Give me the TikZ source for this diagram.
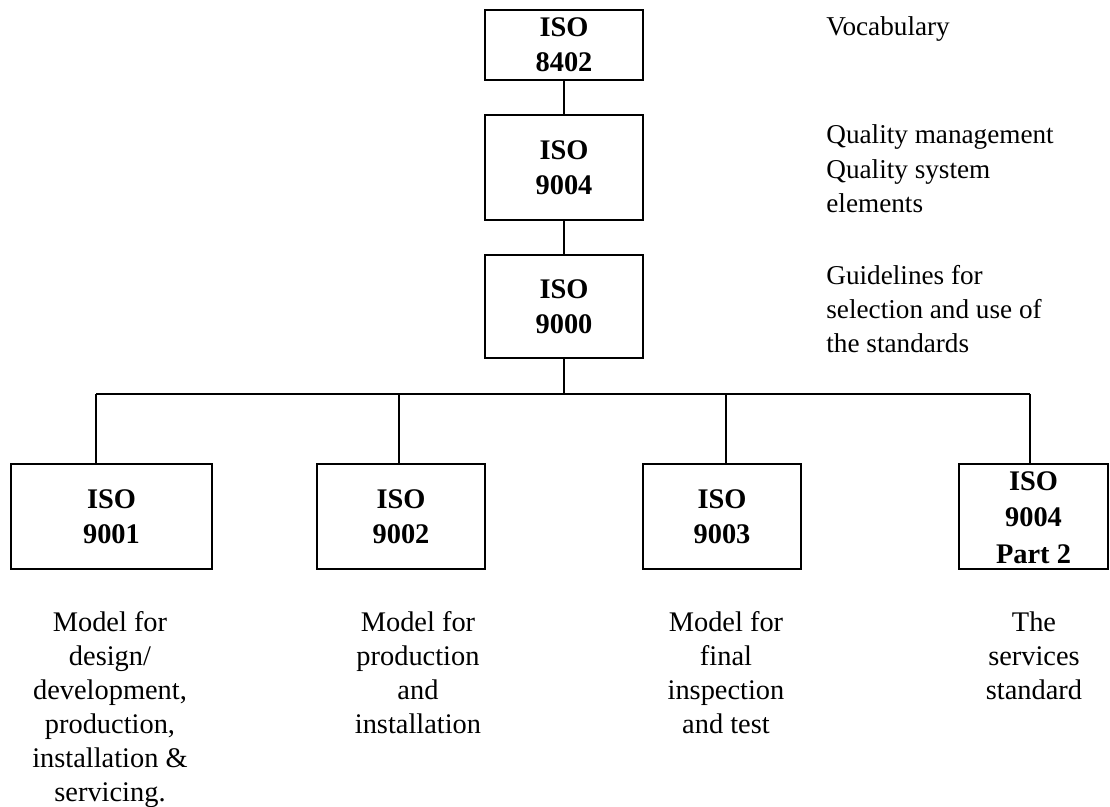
\documentclass[tikz,border=0pt]{standalone}
\usepackage{fontspec}
\setmainfont{Liberation Serif}
\usepackage{tikz}
\usetikzlibrary{positioning}
\tikzset{
isobox/.style 2 args = {draw, line width=0.8pt, inner sep=0pt, outer sep=0pt,
  minimum width=#1, minimum height=#2, align=center,
  font=\fontsize{14.2}{17.5}\selectfont\bfseries},
isobox/.default = {79pt}{52pt}, % size of the box
note/.style = {inner sep=0pt, font=\fontsize{14.2}{17}\selectfont},
sidenote/.style = {note, anchor=north west, align=left,
  font=\fontsize{13.6}{17.2}\selectfont},
link/.style = {line width=0.8pt}
}

\begin{document}
\begin{tikzpicture}[x=0.5pt, y=-0.5pt]
      \useasboundingbox (0,0) rectangle (1110,807);
      % chain of general standards
      \node [isobox={79pt}{35pt}] (b8402) at (564,45) {ISO\\8402};
      \node [isobox={79pt}{52.5pt}] (b9004) at (564,167.5) {ISO\\9004};
      \node [isobox={79pt}{51.5pt}] (b9000) at (564,306.5) {ISO\\9000};
      % contractual models
      \node [isobox={100.5pt}{52.5pt}] (b9001) at (111.5,516.5) {ISO\\9001};
      \node [isobox={84pt}{52.5pt}] (b9002) at (401,516.5) {ISO\\9002};
      \node [isobox={79pt}{52.5pt}] (b9003) at (722,516.5) {ISO\\9003};
      \node [isobox={74.5pt}{52.5pt}] (b9004p) at (1033.5,516.5)
        {\parbox[c][47pt][b]{60pt}{\centering\baselineskip=18.2pt ISO\\9004\\Part 2}};
      % descriptions on the right
      \node [sidenote] (vocab) at (826,16.5) {Vocabulary};
      \node [sidenote] (qualm) at (826,124.5)
        {Quality management\\Quality system\\elements};
      \node [sidenote] (guide) at (826,264.5)
        {Guidelines for\\selection and use of\\the standards};
      % descriptions below
      \node [note, anchor=north, align=center] (d9001) at (110,611.5)
        {Model for\\design/\\development,\\production,\\installation \&\\servicing.};
      \node [note, anchor=north, align=center] (d9002) at (418,611.5)
        {Model for\\production\\and\\installation};
      \node [note, anchor=north, align=center] (d9003) at (726,611.5)
        {Model for\\final\\inspection\\and test};
      \node [note, anchor=north, align=center] (d9004p) at (1034,611.5)
        {The\\services\\standard};
      % connectors
      \coordinate (drop1) at (96,394);
      \coordinate (drop2) at (399,394);
      \coordinate (drop3) at (726,394);
      \coordinate (drop4) at (1030,394);
      \draw [link] (b8402) -- (b9004);
      \draw [link] (b9004) -- (b9000);
      \draw [link] (b9000.south) -- (b9000.south |- drop1);
      \draw [link] (drop1) -- (drop4);
      \draw [link] (drop1) -- (drop1 |- b9001.north);
      \draw [link] (drop2) -- (drop2 |- b9002.north);
      \draw [link] (drop3) -- (drop3 |- b9003.north);
      \draw [link] (drop4) -- (drop4 |- b9004p.north);
\end{tikzpicture}
\end{document}
